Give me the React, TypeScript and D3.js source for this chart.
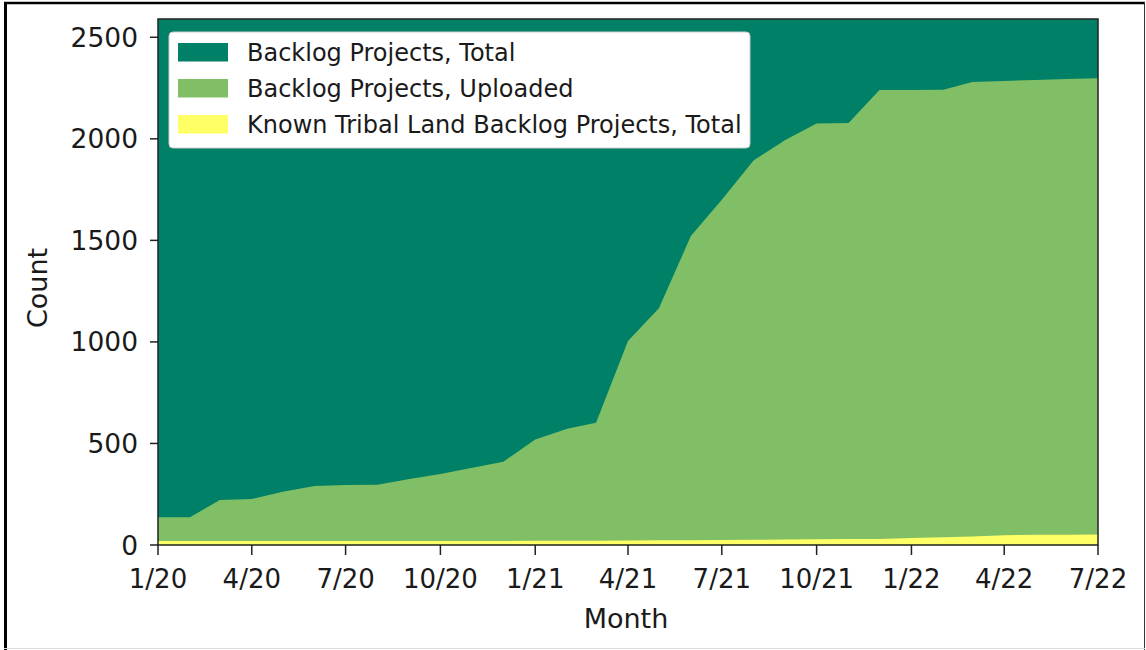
import React from "react";
import * as d3 from "d3";

const months = [
  "2020-01","2020-02","2020-03","2020-04","2020-05","2020-06","2020-07","2020-08","2020-09","2020-10","2020-11","2020-12",
  "2021-01","2021-02","2021-03","2021-04","2021-05","2021-06","2021-07","2021-08","2021-09","2021-10","2021-11","2021-12",
  "2022-01","2022-02","2022-03","2022-04","2022-05","2022-06","2022-07",
];
const totalProjects = [
  2590,2590,2590,2590,2590,2590,2590,2590,2590,2590,2590,2590,
  2590,2590,2590,2590,2590,2590,2590,2590,2590,2590,2590,2590,
  2590,2590,2590,2590,2590,2590,2590,
];
const uploadedProjects = [
  137,137,221,226,262,290,295,297,325,350,380,410,
  520,572,602,1005,1166,1521,1700,1895,1995,2075,2078,2240,
  2240,2242,2280,2285,2290,2295,2298,
];
const tribalProjects = [
  20,20,20,20,20,20,20,20,20,20,20,20,
  21,21,21,22,23,24,25,26,27,28,29,30,
  35,38,42,48,50,51,52,
];
const seriesNames = [
  "Backlog Projects, Total",
  "Backlog Projects, Uploaded",
  "Known Tribal Land Backlog Projects, Total",
];
const seriesColors = ["#008066", "#80bf66", "#ffff66"];
const yTicks = [0, 500, 1000, 1500, 2000, 2500];
const xLabel = "Month";
const yLabel = "Count";

const W = 1146, H = 650;
const M = { left: 158, right: 1098, top: 19, bottom: 545 };
const FONT = "DejaVu Sans, sans-serif";

export default function App() {
  const parse = d3.timeParse("%Y-%m");
  const dates = months.map((m) => parse(m) as Date);
  const x = d3.scaleTime().domain([dates[0], dates[dates.length - 1]]).range([M.left, M.right]);
  const y = d3.scaleLinear().domain([0, 2590]).range([M.bottom, M.top]);
  const xTicks = d3.timeMonth.every(3)!.range(dates[0], d3.timeMonth.offset(dates[dates.length - 1], 1));
  const fmt = (d: Date) => `${d.getMonth() + 1}/${String(d.getFullYear()).slice(2)}`;

  const area = (vals: number[]) =>
    d3.area<number>()
      .x((_, i) => x(dates[i]))
      .y0(y(0))
      .y1((v) => y(v))(vals) as string;

  const seriesData = [totalProjects, uploadedProjects, tribalProjects];

  const legX = 169, legY = 32, legW = 581, legH = 116;

  return (
    <svg width={W} height={H} style={{ position: "absolute", left: 0, top: 0, display: "block", background: "#fff" }}>
      <rect x={0} y={0} width={W} height={H} fill="#fff" />
      <defs>
        <clipPath id="plotclip">
          <rect x={M.left} y={M.top} width={M.right - M.left} height={M.bottom - M.top} />
        </clipPath>
      </defs>
      <g clipPath="url(#plotclip)">
        {seriesData.map((vals, i) => (
          <path key={i} d={area(vals)} fill={seriesColors[i]} />
        ))}
      </g>
      <rect x={M.left} y={M.top} width={M.right - M.left} height={M.bottom - M.top} fill="none" stroke="#222" strokeWidth={1.5} />
      {/* y axis */}
      {yTicks.map((t) => (
        <g key={t}>
          <line x1={M.left - 8} x2={M.left} y1={y(t)} y2={y(t)} stroke="#222" strokeWidth={1.5} />
          <text x={M.left - 20} y={y(t)} dy="0.36em" textAnchor="end" fontFamily={FONT} fontSize={26.5} fill="#1a1a1a">{t}</text>
        </g>
      ))}
      {/* x axis */}
      {xTicks.map((d, i) => (
        <g key={i}>
          <line x1={x(d)} x2={x(d)} y1={M.bottom} y2={M.bottom + 10} stroke="#222" strokeWidth={1.5} />
          <text x={x(d)} y={588} textAnchor="middle" fontFamily={FONT} fontSize={26} fill="#1a1a1a">{fmt(d)}</text>
        </g>
      ))}
      <text x={(M.left + M.right) / 2 - 2} y={628} textAnchor="middle" fontFamily={FONT} fontSize={27} fill="#1a1a1a">{xLabel}</text>
      <text transform={`translate(47, 288) rotate(-90)`} textAnchor="middle" fontFamily={FONT} fontSize={27} fill="#1a1a1a">{yLabel}</text>
      {/* legend */}
      <rect x={legX} y={legY} width={legW} height={legH} rx={4} fill="#fff" stroke="#ccc" strokeWidth={1} />
      {seriesNames.map((name, i) => (
        <g key={name}>
          <rect x={178} y={43 + i * 36} width={50} height={18.5} fill={seriesColors[i]} />
          <text x={247} y={52 + i * 36} dy="0.36em" fontFamily={FONT} fontSize={24} fill="#1a1a1a">{name}</text>
        </g>
      ))}
      {/* outer frame */}
      <line x1={5.5} x2={5.5} y1={2} y2={650} stroke="#000" strokeWidth={3} />
      <line x1={4} x2={1145} y1={3} y2={3} stroke="#000" strokeWidth={2.5} />
      <line x1={1144.5} x2={1144.5} y1={2} y2={650} stroke="#333" strokeWidth={1} />
      <line x1={4} x2={1145} y1={648.5} y2={648.5} stroke="#ddd" strokeWidth={1} />
    </svg>
  );
}
